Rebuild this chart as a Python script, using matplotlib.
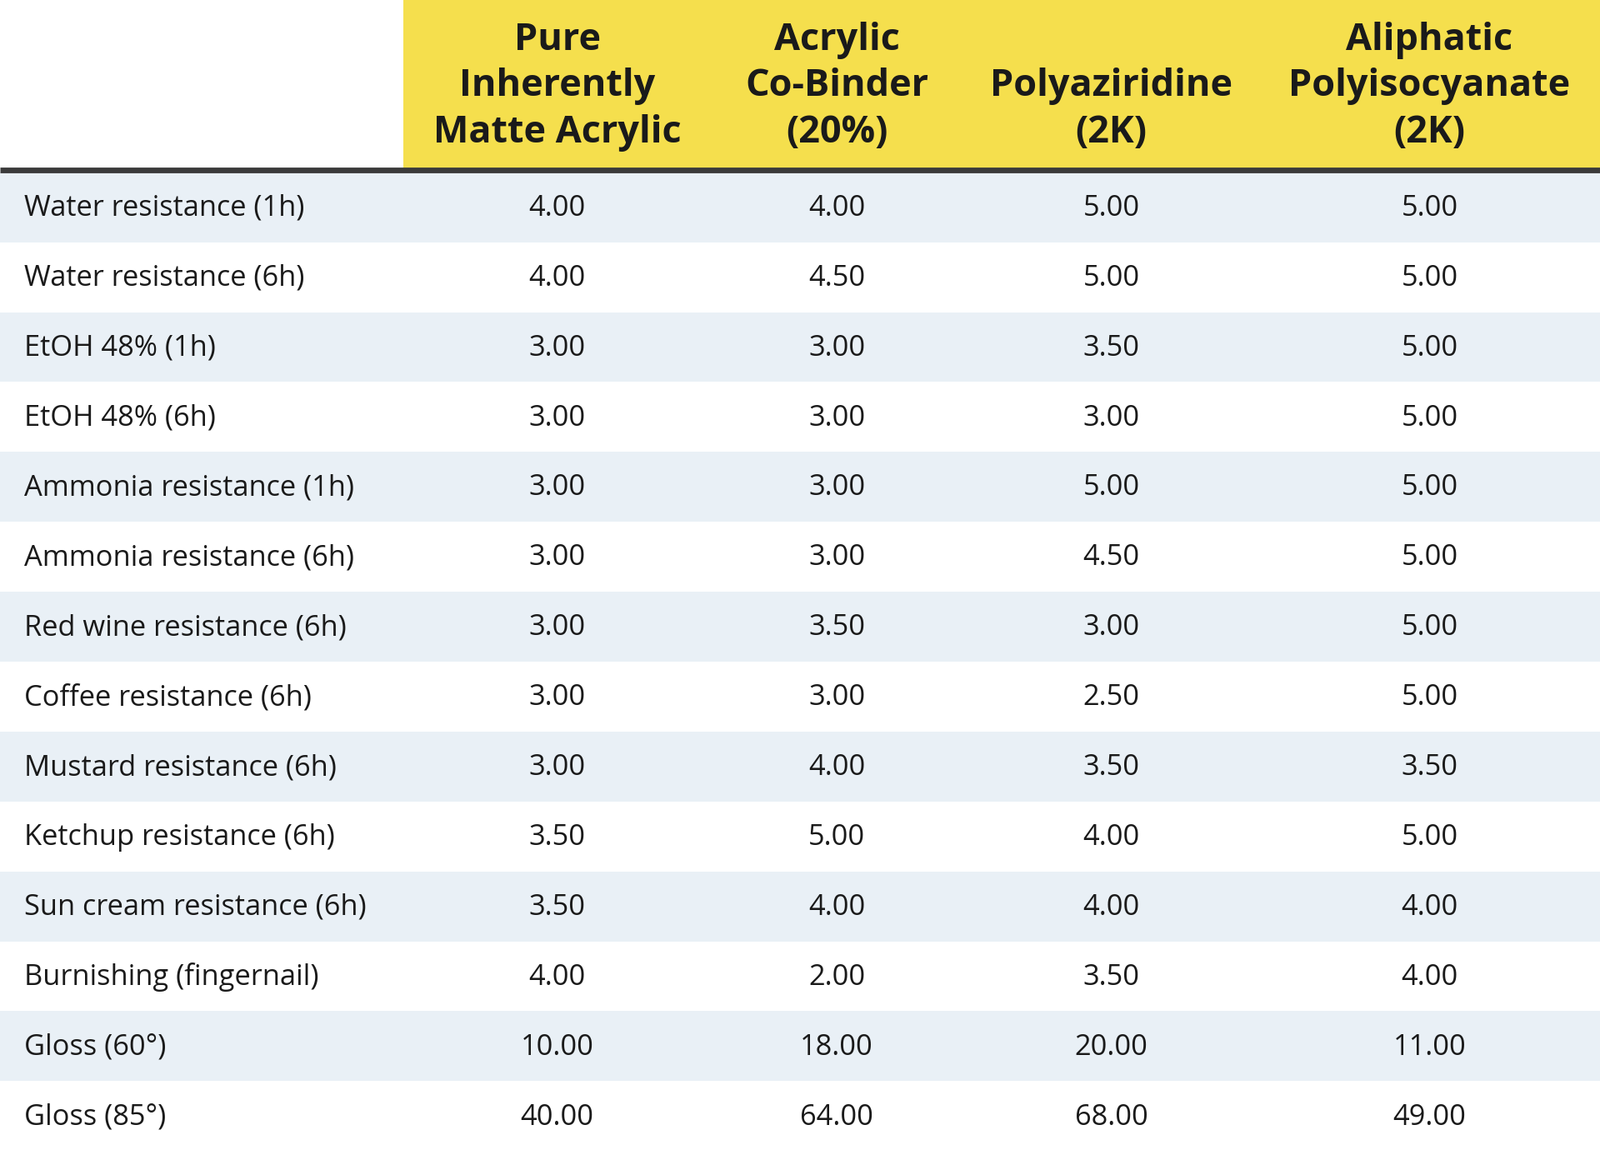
import matplotlib
matplotlib.use("Agg")
import matplotlib.pyplot as plt
from matplotlib.patches import Rectangle

columns = ["Pure\nInherently\nMatte Acrylic", "Acrylic\nCo-Binder\n(20%)", "Polyaziridine\n(2K)", "Aliphatic\nPolyisocyanate\n(2K)"]
rows = ["Water resistance (1h)", "Water resistance (6h)", "EtOH 48% (1h)", "EtOH 48% (6h)",
        "Ammonia resistance (1h)", "Ammonia resistance (6h)", "Red wine resistance (6h)",
        "Coffee resistance (6h)", "Mustard resistance (6h)", "Ketchup resistance (6h)",
        "Sun cream resistance (6h)", "Burnishing (fingernail)", "Gloss (60°)", "Gloss (85°)"]
pure_matte = [4.00, 4.00, 3.00, 3.00, 3.00, 3.00, 3.00, 3.00, 3.00, 3.50, 3.50, 4.00, 10.00, 40.00]
co_binder = [4.00, 4.50, 3.00, 3.00, 3.00, 3.00, 3.50, 3.00, 4.00, 5.00, 4.00, 2.00, 18.00, 64.00]
polyaziridine = [5.00, 5.00, 3.50, 3.00, 5.00, 4.50, 3.00, 2.50, 3.50, 4.00, 4.00, 3.50, 20.00, 68.00]
polyisocyanate = [5.00, 5.00, 5.00, 5.00, 5.00, 5.00, 5.00, 5.00, 3.50, 5.00, 4.00, 4.00, 11.00, 49.00]
series = [pure_matte, co_binder, polyaziridine, polyisocyanate]

W, H = 1568, 1128
fig = plt.figure(figsize=(19.2, 13.8), dpi=100)
ax = fig.add_axes([0, 0, 1, 1])
ax.set_xlim(0, W); ax.set_ylim(H, 0); ax.axis("off")
s = 1920 / W

header_h = 166
col_x = [546, 820, 1089, 1401]
row_h = (H - 168) / len(rows)

ax.add_patch(Rectangle((395, 0), W - 395, header_h, color="#f5df4d", lw=0))
for x, c in zip(col_x, columns):
    lines = c.split("\n")
    n = len(lines)
    for k, ln in enumerate(lines):
        y = 130 - 45 * (n - 1 - k)
        ax.text(x, y, ln, ha="center", va="center", fontsize=26.5 * s, fontweight="bold",
                family="Open Sans", color="#1a1a1a")
ax.plot([0, W], [167, 167], color="#3a3a3a", lw=4 * s, solid_capstyle="butt")

for i, r in enumerate(rows):
    y0 = 169 + i * row_h
    if i % 2 == 0:
        ax.add_patch(Rectangle((0, y0), W, row_h, color="#e9f0f6", lw=0))
    yc = y0 + row_h / 2 + 1
    ax.text(24, yc, r, ha="left", va="center", fontsize=20.2 * s, family="Open Sans", color="#1a1a1a")
    for x, vals in zip(col_x, series):
        ax.text(x, yc, f"{vals[i]:.2f}", ha="center", va="center", fontsize=20.2 * s,
                family="Open Sans", color="#1a1a1a")

fig.savefig("out.png", dpi=100, facecolor="white")
